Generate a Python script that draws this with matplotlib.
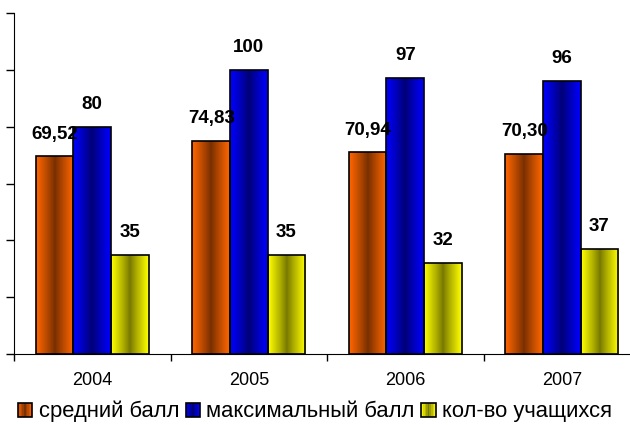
import numpy as np
import matplotlib
matplotlib.use("Agg")
import matplotlib.pyplot as plt
from matplotlib.colors import LinearSegmentedColormap
from matplotlib.patches import Patch, Rectangle
from matplotlib.legend_handler import HandlerBase

plt.rcParams['font.family'] = ['Liberation Sans', 'DejaVu Sans']

years = ["2004", "2005", "2006", "2007"]
avg_score = [69.52, 74.83, 70.94, 70.30]
max_score = [80, 100, 97, 96]
n_students = [35, 35, 32, 37]
avg_labels = ["69,52", "74,83", "70,94", "70,30"]
series_names = ["средний балл", "максимальный балл", "кол-во учащихся"]

# edge colour / centre colour of the cylinder shading
edge_cols = ["#FF6600", "#0000FF", "#FFFF00"]
mid_cols = ["#7A3000", "#000078", "#7A7A00"]

t = np.linspace(0, 1, 64)
grad = 1 - np.abs(2 * t - 1) ** 0.9
cmaps = [LinearSegmentedColormap.from_list("c%d" % i, [edge_cols[i], mid_cols[i]]) for i in range(3)]


class GradHandler(HandlerBase):
    # legend square with the same shading as the bars
    def create_artists(self, legend, orig, xd, yd, width, height, fontsize, trans):
        cm = orig.cmap_
        size = min(width, height)
        x0 = xd + (width - size) / 2
        y0 = yd + (height - size) / 2
        arts = []
        n = 9
        for k in range(n):
            val = 1 - abs(2 * (k + 0.5) / n - 1) ** 0.9
            arts.append(Rectangle((x0 + k * size / n, y0), size / n, size, facecolor=cm(val),
                                  edgecolor="none", transform=trans))
        arts.append(Rectangle((x0, y0), size, size, facecolor="none", edgecolor="black",
                              linewidth=1.2, transform=trans))
        return arts


fig = plt.figure(figsize=(6.3, 4.25), dpi=100)
ax = fig.add_axes([14/630, 71/425, 626/630, 341/425])

x = np.arange(len(years))
w = 0.24
series = [avg_score, max_score, n_students]
labels = [avg_labels, [str(v) for v in max_score], [str(v) for v in n_students]]

for i, vals in enumerate(series):
    pos = x + (i - 1) * w
    bars = ax.bar(pos, vals, w, color="none", edgecolor="black", linewidth=1.2, zorder=3)
    for b, v, lab in zip(bars, vals, labels[i]):
        x0 = b.get_x()
        im = ax.imshow(grad.reshape(1, -1), cmap=cmaps[i], aspect="auto",
                       extent=[x0, x0 + w, 0, v], zorder=2, interpolation="bilinear")
        im.set_clip_path(b)
        ax.annotate(lab, (x0 + w / 2, v), xytext=(0, 10), textcoords="offset points",
                    ha="center", va="bottom", fontsize=13.5, fontweight="bold")

ax.set_xlim(-0.5, len(years) - 0.5)
ax.set_ylim(0, 120)
ax.set_yticks(np.arange(0, 121, 20))
ax.set_yticklabels([])
ax.tick_params(axis="y", direction="out", length=6, width=1)
ax.set_xticks(x)
ax.set_xticklabels(years, fontsize=13)
ax.tick_params(axis="x", which="major", length=0, pad=13)
ax.set_xticks(np.arange(-0.5, len(years), 1), minor=True)
ax.tick_params(axis="x", which="minor", direction="out", length=5, width=1)
ax.spines["top"].set_visible(False)
ax.spines["right"].set_visible(False)

handles = []
for i in range(3):
    h = Patch()
    h.cmap_ = cmaps[i]
    handles.append(h)
fig.legend(handles, series_names, loc="center", bbox_to_anchor=(0.5, 14/425), ncol=3,
           frameon=False, fontsize=15.8, handlelength=0.65, handleheight=0.65,
           handletextpad=0.3, columnspacing=0.3, borderaxespad=0, borderpad=0,
           handler_map={Patch: GradHandler()})

fig.savefig("out.png", dpi=100)
